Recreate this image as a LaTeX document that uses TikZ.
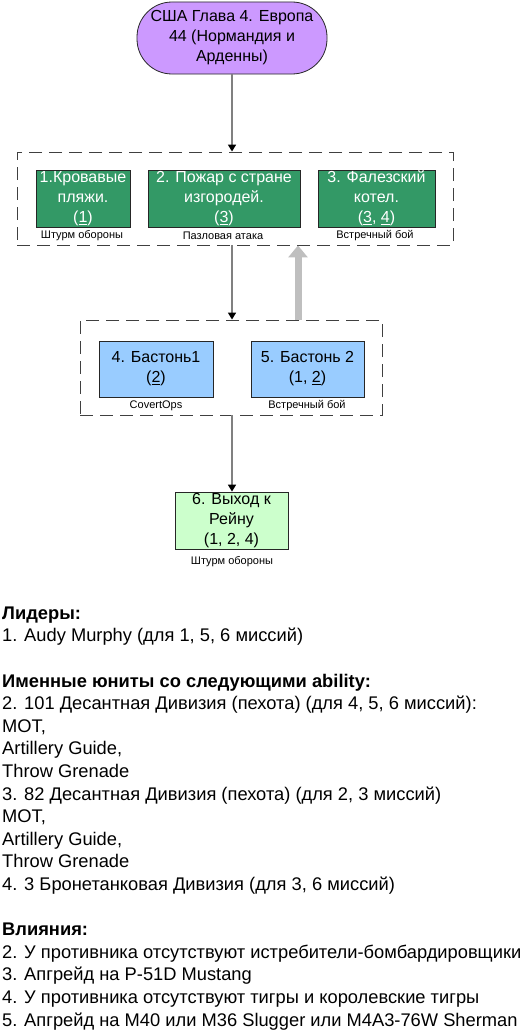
\documentclass[tikz,border=0pt]{standalone}
\usepackage{fontspec}
\setmainfont{Liberation Sans}
\usetikzlibrary{arrows.meta}

\definecolor{missionPurple}{HTML}{CC99FF}
\definecolor{missionGreen}{HTML}{339966}
\definecolor{missionBlue}{HTML}{99CCFF}
\definecolor{missionLight}{HTML}{CCFFCC}

\begin{document}
\begin{tikzpicture}
[x=1pt,y=-1pt,
  boxDecorate/.style={draw=black!85,line width=0.8pt,align=center,inner sep=0pt,
    font=\fontsize{16}{20}\selectfont},%
  greenDecorate/.style={boxDecorate,fill=missionGreen,text=white,minimum height=57pt},%
  blueDecorate/.style={boxDecorate,fill=missionBlue,minimum height=56pt},%
  groupDecorate/.style={draw=black!75,line width=0.9pt,dash pattern=on 13pt off 7pt,
    inner sep=0pt,minimum height=93pt},%
  labelDecorate/.style={font=\fontsize{11}{13}\selectfont,inner sep=0pt},%
  lineDecorate/.style={draw=black!50,line width=1.6pt,
    -{Triangle[width=8pt,length=7pt,color=black]}},%
  backDecorate/.style={draw=black!25,line width=7pt,
    -{Triangle[width=19pt,length=12pt,color=black!25]}}]
\useasboundingbox (0,0) rectangle (531,1033);
%% campaign
\node (top) at (232,38) [boxDecorate,fill=missionPurple,rounded corners=35pt,
  minimum width=190pt,minimum height=72pt]
  {США Глава 4. Европа\\44 (Нормандия и\\Арденны)};
%% groups
\node (grp1) at (235,198.5) [groupDecorate,minimum width=436pt] {};
\node (grp2) at (231,367.5) [groupDecorate,minimum width=302pt,minimum height=95pt] {};
%% missions
\node (m1) at (83,198.5) [greenDecorate,minimum width=94pt]
  {1.Кровавые\\пляжи.\\(\underline{1})};
\node (m2) at (224,198.5) [greenDecorate,minimum width=152pt]
  {2. Пожар с стране\\изгородей.\\(\underline{3})};
\node (m3) at (376.5,198.5) [greenDecorate,minimum width=117pt]
  {3. Фалезский\\котел.\\(\underline{3}, \underline{4})};
\node (m4) at (156,369) [blueDecorate,minimum width=114pt]
  {4. Бастонь1\\(\underline{2})};
\node (m5) at (307.5,369) [blueDecorate,minimum width=113pt]
  {5. Бастонь 2\\(1, \underline{2})};
\node (m6) at (231.5,520.5) [boxDecorate,fill=missionLight,minimum width=113pt,
  minimum height=57pt] {6. Выход к\\Рейну\\(1, 2, 4)};
%% battle types
\foreach \lname/\x/\y/\ltext in {
  l1/82/236/{Штурм обороны}, l2/223/236/{Пазловая атака},
  l3/375/236/{Встречный бой}, l4/156/406/{CovertOps},
  l5/307/406/{Встречный бой}, l6/232/562/{Штурм обороны}}
{
  \node (\lname) at (\x,\y) [labelDecorate] {\ltext};
}
%% edges
\draw[lineDecorate] (top.south) -- (top.south |- grp1.north);
\draw[lineDecorate] (grp1.south -| top.south) -- (grp2.north -| top.south);
\draw[lineDecorate] (grp2.south -| top.south) -- (m6.north -| top.south);
\coordinate (back) at (298,0);
\draw[backDecorate] (grp2.north -| back) -- (grp1.south -| back);
%% notes
\node (notes) at (2,606.5) [anchor=north west,inner sep=0pt,align=left,
  font=\fontsize{18.3}{22.6}\selectfont] {%
  \textbf{Лидеры:}\\
  1. Audy Murphy (для 1, 5, 6 миссий)\\
  ~\\
  \textbf{Именные юниты со следующими ability:}\\
  2. 101 Десантная Дивизия (пехота) (для 4, 5, 6 миссий):\\
  MOT,\\
  Artillery Guide,\\
  Throw Grenade\\
  3. 82 Десантная Дивизия (пехота) (для 2, 3 миссий)\\
  MOT,\\
  Artillery Guide,\\
  Throw Grenade\\
  4. 3 Бронетанковая Дивизия (для 3, 6 миссий)\\
  ~\\
  \textbf{Влияния:}\\
  2. У противника отсутствуют истребители-бомбардировщики\\
  3. Апгрейд на P-51D Mustang\\
  4. У противника отсутствуют тигры и королевские тигры\\
  5. Апгрейд на M40 или M36 Slugger или M4A3-76W Sherman};
\end{tikzpicture}
\end{document}
